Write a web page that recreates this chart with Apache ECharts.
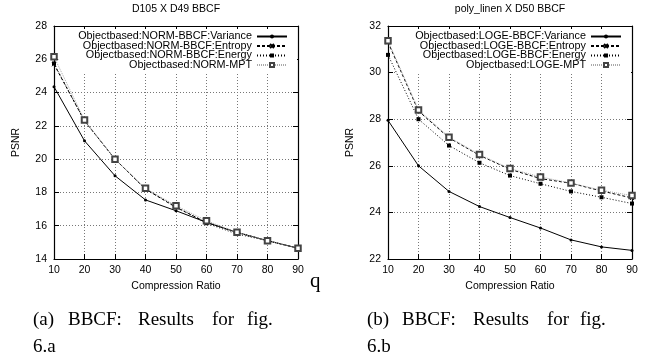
<!DOCTYPE html>
<html>
<head>
<meta charset="utf-8">
<script src="https://cdn.jsdelivr.net/npm/echarts@6/dist/echarts.min.js"></script>
<style>
html,body{margin:0;padding:0;background:#fff;}
#chart{width:653px;height:358px;}
</style>
</head>
<body>
<div id="chart"></div>
<script>
// ---- data ----
var ratios = [10, 20, 30, 40, 50, 60, 70, 80, 90];

var leftTitle = 'D105 X D49 BBCF';
var leftNames = ['Objectbased:NORM-BBCF:Variance', 'Objectbased:NORM-BBCF:Entropy', 'Objectbased:NORM-BBCF:Energy', 'Objectbased:NORM-MPT'];
var leftVariance = [24.35, 21.1, 19.0, 17.55, 16.9, 16.2, 15.6, 15.1, 14.65];
var leftEntropy  = [25.7, 22.3, 20.0, 18.2, 17.1, 16.2, 15.6, 15.1, 14.65];
var leftEnergy   = [25.75, 22.3, 20.0, 18.2, 17.15, 16.15, 15.5, 15.1, 14.65];
var leftMPT      = [26.15, 22.35, 20.0, 18.25, 17.2, 16.3, 15.6, 15.1, 14.65];

var rightTitle = 'poly_linen X D50 BBCF';
var rightNames = ['Objectbased:LOGE-BBCF:Variance', 'Objectbased:LOGE-BBCF:Entropy', 'Objectbased:LOGE-BBCF:Energy', 'Objectbased:LOGE-MPT'];
var rightVariance = [27.95, 26.0, 24.9, 24.25, 23.78, 23.33, 22.82, 22.52, 22.37];
var rightEntropy  = [31.3, 28.35, 27.2, 26.45, 25.85, 25.45, 25.25, 24.92, 24.62];
var rightEnergy   = [30.76, 28.0, 26.87, 26.13, 25.58, 25.23, 24.9, 24.65, 24.38];
var rightMPT      = [31.37, 28.4, 27.23, 26.48, 25.88, 25.52, 25.26, 24.95, 24.72];

var leftY = {min: 14, max: 28, interval: 2};
var rightY = {min: 22, max: 32, interval: 2};
var xRange = {min: 10, max: 90, interval: 10};

var xName = 'Compression Ratio';
var yName = 'PSNR';
var captionA = ['(a)', 'BBCF:', 'Results', 'for', 'fig.'];
var captionA2 = '6.a';
var captionB = ['(b)', 'BBCF:', 'Results', 'for', 'fig.'];
var captionB2 = '6.b';
var qText = 'q';

// ---- build ----
var SANS = '"Liberation Sans", Arial, sans-serif';
var SERIF = '"Liberation Serif", "Times New Roman", serif';
function pairs(ys){ return ratios.map(function(x,i){ return [x, ys[i]]; }); }

var styles = [
  {symbol:'circle', symbolSize:3, line:{color:'#000', width:1, type:'solid'}, item:{color:'#000'}},
  {symbol:'path://M0,0L10,10M10,0L0,10', symbolSize:4, line:{color:'#000', width:1, type:[3,2]}, item:{color:'#000', borderColor:'#000', borderWidth:1}},
  {symbol:'rect', symbolSize:4, line:{color:'#000', width:1, type:[1,2]}, item:{color:'#000'}},
  {symbol:'emptyRect', symbolSize:5.5, line:{color:'#aaa', width:1, type:[1,1]}, item:{color:'#444', borderColor:'#444', borderWidth:1}}
];

function mkSeries(names, arrs, axisIdx){
  return names.map(function(n,i){
    var s = styles[i];
    return {
      type:'line', name:n, data:pairs(arrs[i]),
      xAxisIndex:axisIdx, yAxisIndex:axisIdx,
      symbol:s.symbol, symbolSize:s.symbolSize, showSymbol:true,
      lineStyle:s.line, itemStyle:s.item, animation:false, z: 3 + i,
      emphasis:{disabled:true}
    };
  });
}

function xAxes(gridIdx){
  return [{
    type:'value', gridIndex:gridIdx, min:xRange.min, max:xRange.max, interval:xRange.interval,
    name:xName, nameLocation:'middle', nameGap:22,
    nameTextStyle:{fontFamily:SANS, fontSize:10.5, color:'#000'},
    axisLine:{show:true, onZero:false, lineStyle:{color:'#000', width:1.2}},
    axisTick:{show:true, inside:true, length:5, lineStyle:{color:'#000'}},
    axisLabel:{fontFamily:SANS, fontSize:10.5, color:'#000', margin:6},
    splitLine:{show:true, lineStyle:{color:'#777', width:1, type:[1,2]}}
  },{
    type:'value', gridIndex:gridIdx, position:'top', min:xRange.min, max:xRange.max, interval:xRange.interval,
    axisLine:{show:true, onZero:false, lineStyle:{color:'#000', width:1.2}},
    axisTick:{show:true, inside:true, length:5, lineStyle:{color:'#000'}},
    axisLabel:{show:false}, splitLine:{show:false}
  }];
}
function yAxes(gridIdx, r){
  return [{
    type:'value', gridIndex:gridIdx, min:r.min, max:r.max, interval:r.interval,
    name:yName, nameLocation:'middle', nameGap:32,
    nameTextStyle:{fontFamily:SANS, fontSize:10.5, color:'#000'},
    axisLine:{show:true, onZero:false, lineStyle:{color:'#000', width:1.2}},
    axisTick:{show:true, inside:true, length:5, lineStyle:{color:'#000'}},
    axisLabel:{fontFamily:SANS, fontSize:10.5, color:'#000', margin:7},
    splitLine:{show:true, lineStyle:{color:'#777', width:1, type:[1,2]}}
  },{
    type:'value', gridIndex:gridIdx, position:'right', min:r.min, max:r.max, interval:r.interval,
    axisLine:{show:true, onZero:false, lineStyle:{color:'#000', width:1.2}},
    axisTick:{show:true, inside:true, length:5, lineStyle:{color:'#000'}},
    axisLabel:{show:false}, splitLine:{show:false}
  }];
}

function legend(names, rightPx){
  return {
    data:names, orient:'vertical', align:'right', right:rightPx, top:29,
    itemWidth:30, itemHeight:5, itemGap:-1.5,
    backgroundColor:'#fff', padding:[2,9,3,20],
    textStyle:{fontFamily:SANS, fontSize:10.8, color:'#000'},
    selectedMode:false, inactiveColor:'#000'
  };
}

function captionText(words, xs, y){
  return words.map(function(w,i){
    return {type:'text', left:xs[i], top:y, style:{text:w, font:'19px ' + SERIF, fill:'#000'}};
  });
}

var xa = xAxes(0), xb = xAxes(1);
var ya = yAxes(0, leftY), yb = yAxes(1, rightY);
var series = mkSeries(leftNames, [leftVariance, leftEntropy, leftEnergy, leftMPT], 0)
  .concat(mkSeries(rightNames, [rightVariance, rightEntropy, rightEnergy, rightMPT], 2));

var graphics = []
  .concat(captionText(captionA, [33, 68, 138, 212, 247], 311))
  .concat(captionText([captionA2], [33], 338))
  .concat(captionText(captionB, [367, 402, 473, 547, 580], 311))
  .concat(captionText([captionB2], [367], 338))
  .concat([{type:'text', left:310, top:271, style:{text:qText, font:'21px ' + SERIF, fill:'#000'}}]);

var option = {
  backgroundColor:'#fff',
  animation:false,
  title:[
    {text:leftTitle, left:176, top:4, textAlign:'center', padding:0, textStyle:{fontFamily:SANS, fontSize:10.5, fontWeight:'normal', color:'#000'}},
    {text:rightTitle, left:510, top:4, textAlign:'center', padding:0, textStyle:{fontFamily:SANS, fontSize:10.5, fontWeight:'normal', color:'#000'}}
  ],
  grid:[
    {left:54, top:26, width:244, height:233},
    {left:388, top:26, width:244, height:233}
  ],
  xAxis: xa.concat(xb),
  yAxis: ya.concat(yb),
  legend:[legend(leftNames, 653 - 288 - 9), legend(rightNames, 653 - 622 - 9)],
  series: series,
  graphic: graphics
};

var chart = echarts.init(document.getElementById('chart'), null, {renderer:'canvas'});
chart.setOption(option);
</script>
</body>
</html>
